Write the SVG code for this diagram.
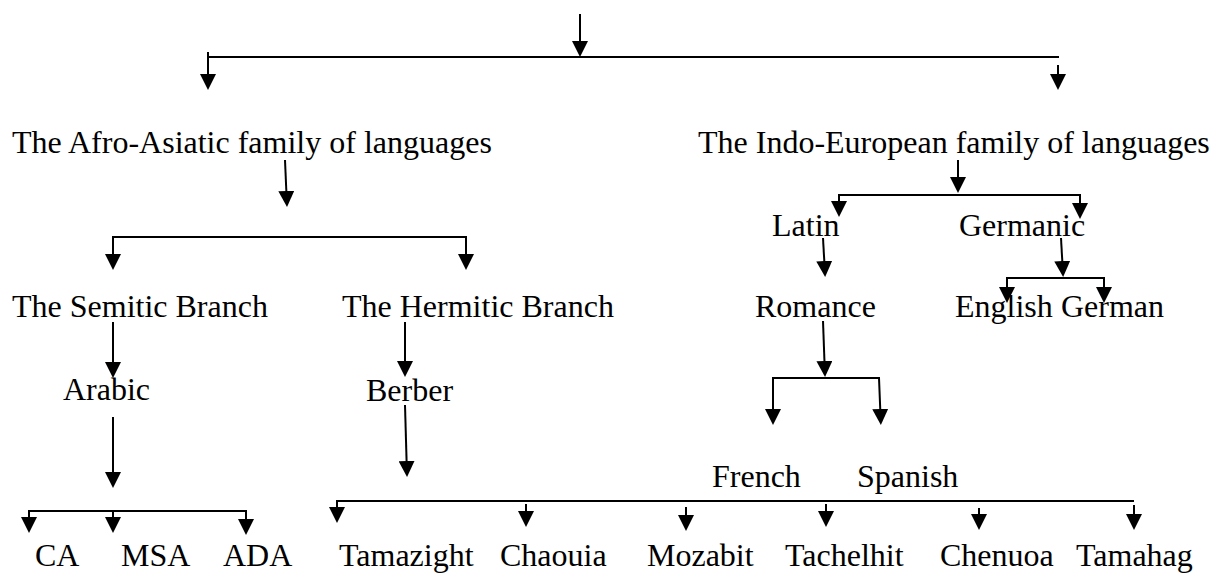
<svg xmlns="http://www.w3.org/2000/svg" width="1220" height="573" viewBox="0 0 1220 573">
<style>
text{font-family:"Liberation Serif","Times New Roman",serif;font-size:32px;fill:#000}
.c line,.c path{stroke:#000;stroke-width:2;fill:none}
.a{marker-end:url(#ah)}
</style>
<defs>
<marker id="ah" viewBox="0 0 16 16" refX="4" refY="8" markerWidth="16" markerHeight="16" markerUnits="userSpaceOnUse" orient="auto">
<path d="M0,0 L16,8 L0,16 z" fill="#000" stroke="none"/>
</marker>
</defs>
<rect width="1220" height="573" fill="#fff"/>
<g id="connectors" class="c">
<line class="a" x1="580" y1="14" x2="580" y2="45"/>
<line x1="208" y1="57" x2="1059" y2="57"/>
<line class="a" x1="208" y1="52" x2="208" y2="78"/>
<line class="a" x1="1058" y1="65" x2="1058" y2="78"/>
<line class="a" x1="285" y1="160" x2="286.5" y2="195"/>
<path d="M113,258 V237 H466 V258" class="a"/>
<line class="a" x1="113" y1="237" x2="113" y2="258"/>
<line class="a" x1="113" y1="322" x2="113" y2="366"/>
<line class="a" x1="405" y1="322" x2="405" y2="365"/>
<line class="a" x1="113" y1="417" x2="113" y2="476"/>
<line class="a" x1="405" y1="405" x2="406.7" y2="465"/>
<path d="M29,521 V511 H246 V523" class="a"/>
<line class="a" x1="29" y1="511" x2="29" y2="521"/>
<line class="a" x1="113" y1="511" x2="113" y2="521"/>
<path d="M337,511 V501 H1134"/>
<line class="a" x1="337" y1="501" x2="337" y2="511"/>
<line class="a" x1="526" y1="504" x2="526" y2="515"/>
<line class="a" x1="686" y1="507" x2="686" y2="519"/>
<line class="a" x1="826" y1="504" x2="826" y2="515"/>
<line class="a" x1="979" y1="508" x2="979" y2="518"/>
<line class="a" x1="1134" y1="505" x2="1134" y2="518"/>
<line class="a" x1="958" y1="160" x2="958" y2="181"/>
<path d="M839,205 V195 H1080 V207" class="a"/>
<line class="a" x1="839" y1="195" x2="839" y2="205"/>
<line class="a" x1="823" y1="238" x2="824.5" y2="265"/>
<line class="a" x1="1061" y1="238" x2="1062.5" y2="265"/>
<path d="M1007,291 V278 H1104 V291" class="a"/>
<line class="a" x1="1007" y1="278" x2="1007" y2="291"/>
<line class="a" x1="823" y1="321" x2="824.6" y2="365"/>
<path d="M773,413 V378 H879 L880.4,413" class="a"/>
<line class="a" x1="773" y1="378" x2="773" y2="413"/>
</g>
<g id="n-afro"><text x="12" y="153">The Afro-Asiatic family of languages</text></g>
<g id="n-indo"><text x="698" y="153">The Indo-European family of languages</text></g>
<g id="n-semitic"><text x="12" y="317">The Semitic Branch</text></g>
<g id="n-hermitic"><text x="342" y="317">The Hermitic Branch</text></g>
<g id="n-arabic"><text x="63" y="400">Arabic</text></g>
<g id="n-berber"><text x="366" y="401">Berber</text></g>
<g id="n-latin"><text x="772" y="236">Latin</text></g>
<g id="n-germanic"><text x="959" y="236">Germanic</text></g>
<g id="n-romance"><text x="755" y="317">Romance</text></g>
<g id="n-english"><text x="955" y="317">English</text></g>
<g id="n-german"><text x="1061" y="317">German</text></g>
<g id="n-french"><text x="712" y="487">French</text></g>
<g id="n-spanish"><text x="857" y="487">Spanish</text></g>
<g id="n-ca"><text x="35" y="566">CA</text></g>
<g id="n-msa"><text x="121" y="566">MSA</text></g>
<g id="n-ada"><text x="223" y="566">ADA</text></g>
<g id="n-tamazight"><text x="339" y="566">Tamazight</text></g>
<g id="n-chaouia"><text x="500" y="566">Chaouia</text></g>
<g id="n-mozabit"><text x="647" y="566">Mozabit</text></g>
<g id="n-tachelhit"><text x="785" y="566">Tachelhit</text></g>
<g id="n-chenuoa"><text x="940" y="566">Chenuoa</text></g>
<g id="n-tamahag"><text x="1076" y="566">Tamahag</text></g>
</svg>
